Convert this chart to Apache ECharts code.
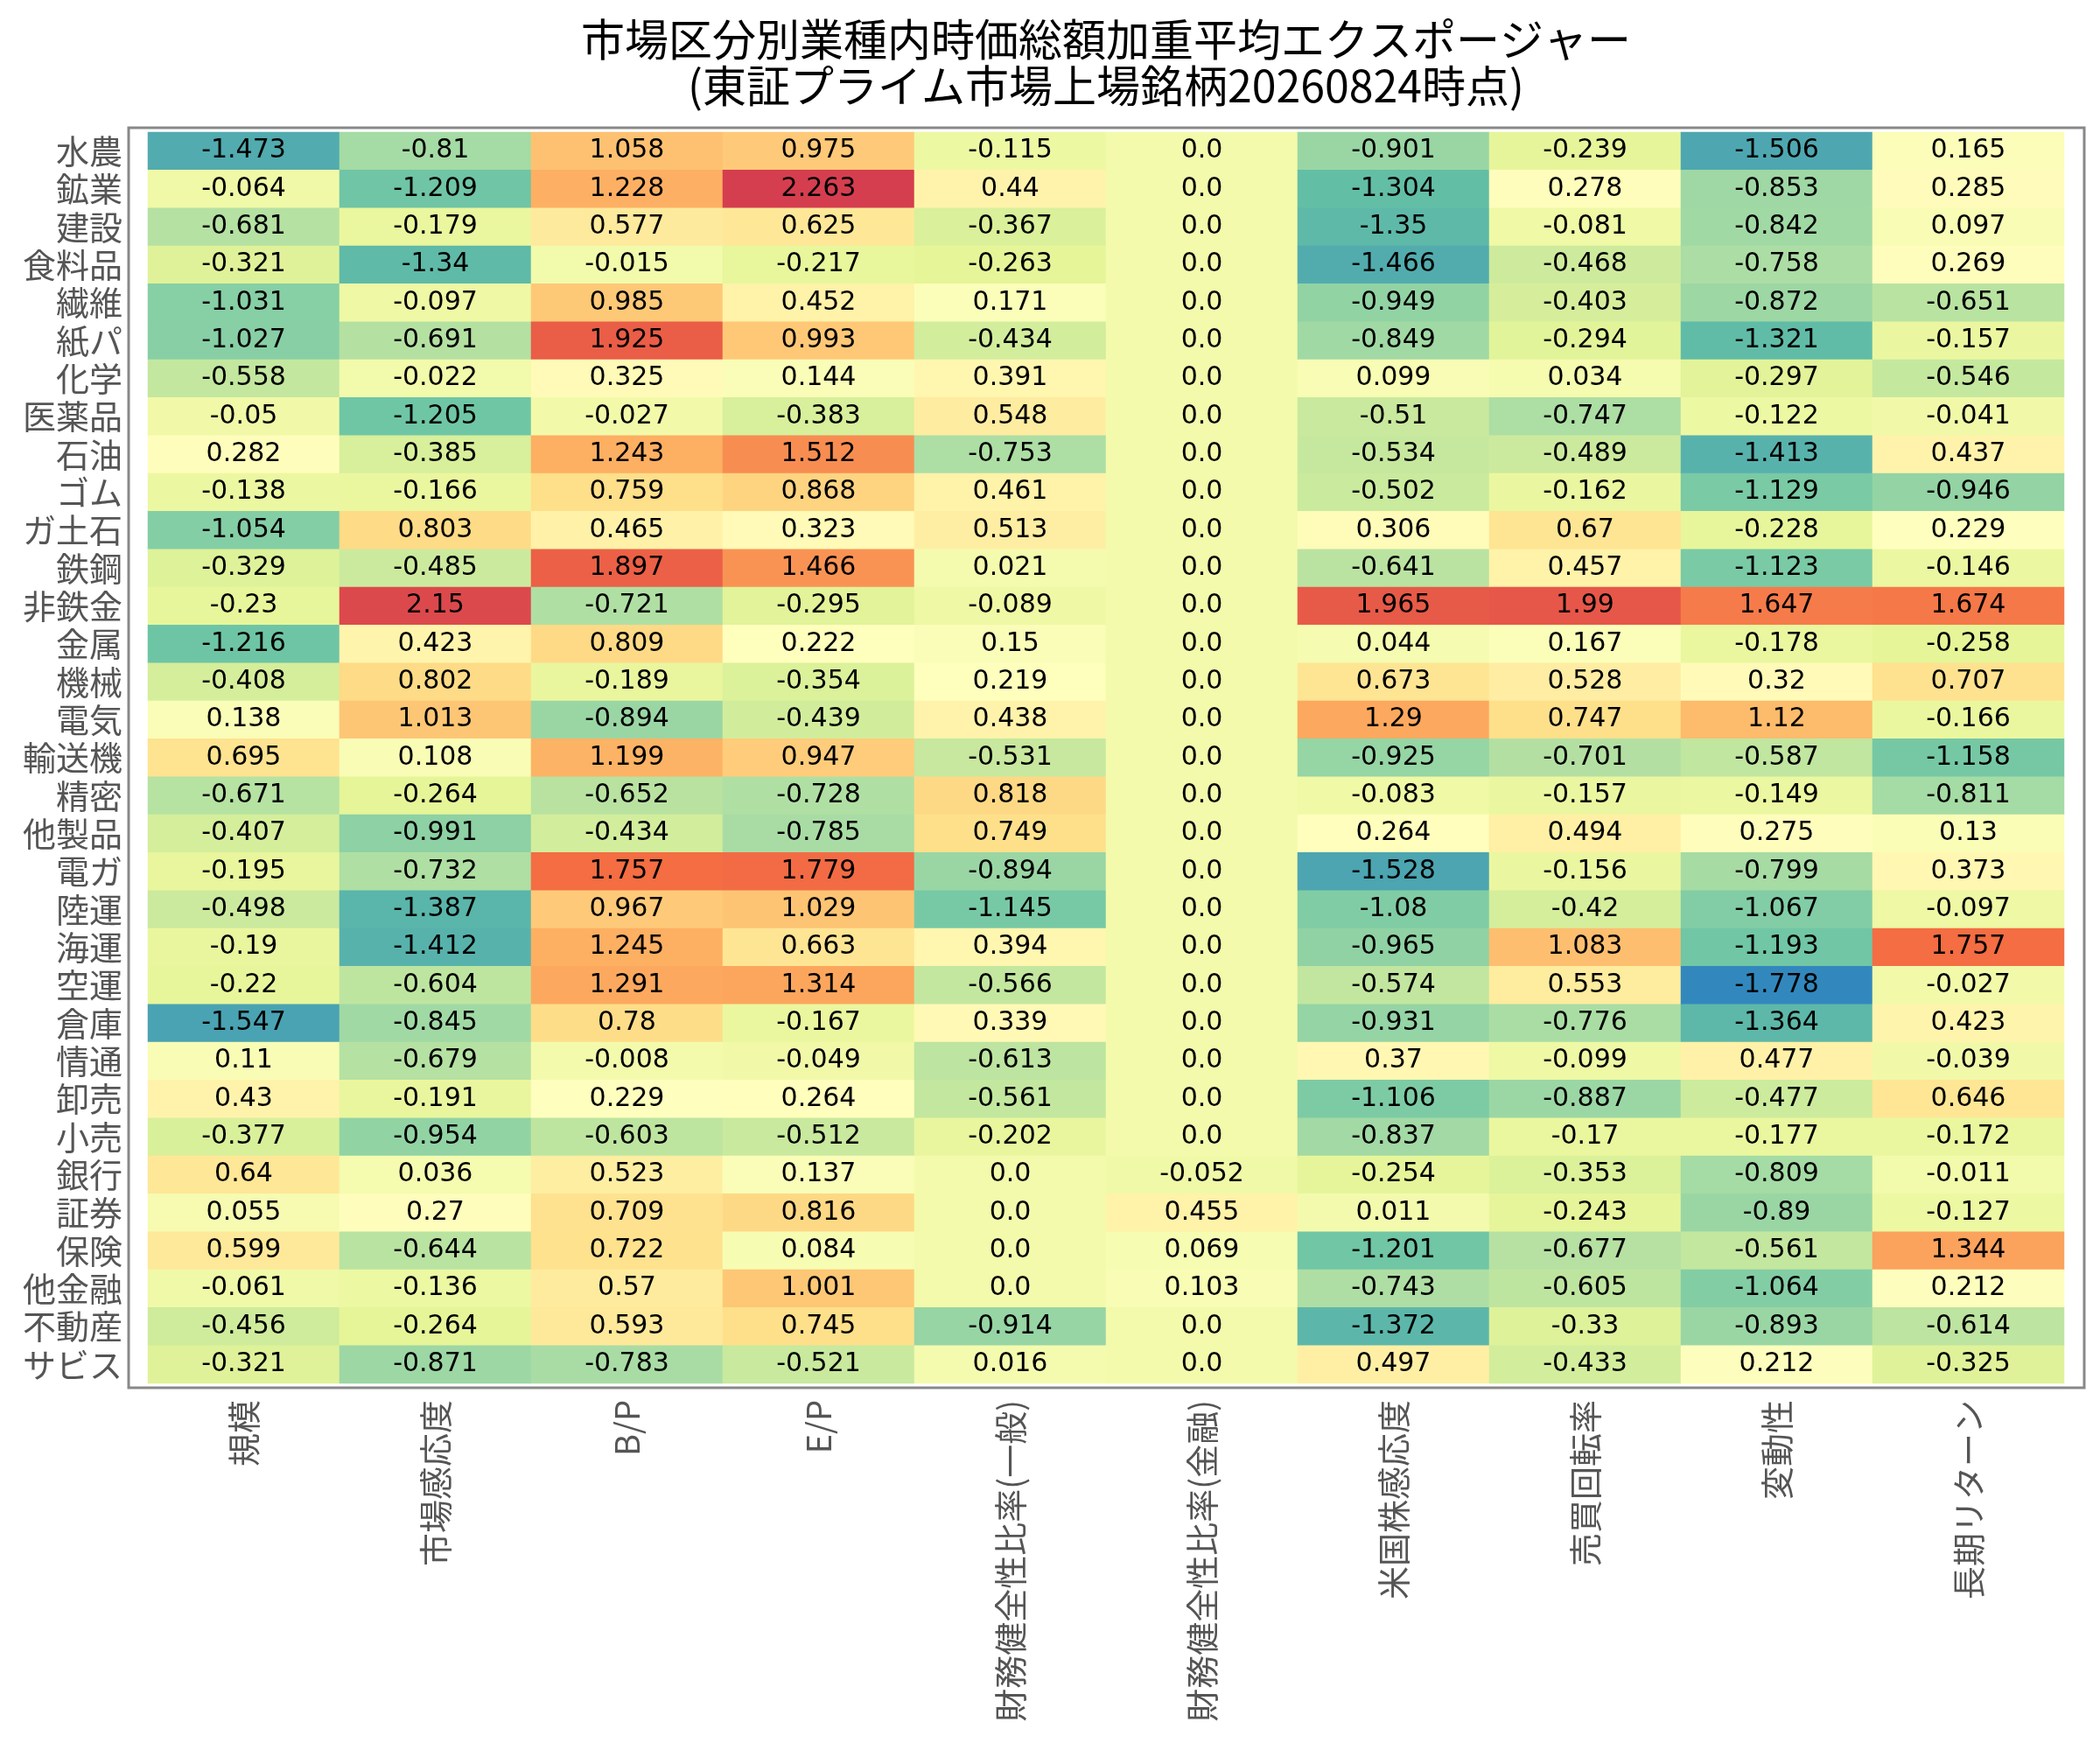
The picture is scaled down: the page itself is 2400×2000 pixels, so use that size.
<html>
  <head>
    <meta charset="utf-8">
    <script src="https://cdn.jsdelivr.net/npm/echarts@6/dist/echarts.min.js"></script>
  </head>
  <body style="margin:0;background:#fff;">
    <div id="main" style="width:2400px;height:2000px;"></div>
    <script>
      // 業種 (rows, top to bottom)
      var sectors = ['水農', '鉱業', '建設', '食料品', '繊維', '紙パ', '化学', '医薬品', '石油', 'ゴム',
        'ガ土石', '鉄鋼', '非鉄金', '金属', '機械', '電気', '輸送機', '精密', '他製品', '電ガ',
        '陸運', '海運', '空運', '倉庫', '情通', '卸売', '小売', '銀行', '証券', '保険',
        '他金融', '不動産', 'サビス'];

      // ファクター (columns)
      var factors = ['規模', '市場感応度', 'B/P', 'E/P', '財務健全性比率(一般)', '財務健全性比率(金融)',
        '米国株感応度', '売買回転率', '変動性', '長期リターン'];

      // one array per factor, in sector order
      var size = [-1.473, -0.064, -0.681, -0.321, -1.031, -1.027, -0.558, -0.05, 0.282, -0.138,
        -1.054, -0.329, -0.23, -1.216, -0.408, 0.138, 0.695, -0.671, -0.407, -0.195,
        -0.498, -0.19, -0.22, -1.547, 0.11, 0.43, -0.377, 0.64, 0.055, 0.599,
        -0.061, -0.456, -0.321];
      var marketBeta = [-0.81, -1.209, -0.179, -1.34, -0.097, -0.691, -0.022, -1.205, -0.385, -0.166,
        0.803, -0.485, 2.15, 0.423, 0.802, 1.013, 0.108, -0.264, -0.991, -0.732,
        -1.387, -1.412, -0.604, -0.845, -0.679, -0.191, -0.954, 0.036, 0.27, -0.644,
        -0.136, -0.264, -0.871];
      var bp = [1.058, 1.228, 0.577, -0.015, 0.985, 1.925, 0.325, -0.027, 1.243, 0.759,
        0.465, 1.897, -0.721, 0.809, -0.189, -0.894, 1.199, -0.652, -0.434, 1.757,
        0.967, 1.245, 1.291, 0.78, -0.008, 0.229, -0.603, 0.523, 0.709, 0.722,
        0.57, 0.593, -0.783];
      var ep = [0.975, 2.263, 0.625, -0.217, 0.452, 0.993, 0.144, -0.383, 1.512, 0.868,
        0.323, 1.466, -0.295, 0.222, -0.354, -0.439, 0.947, -0.728, -0.785, 1.779,
        1.029, 0.663, 1.314, -0.167, -0.049, 0.264, -0.512, 0.137, 0.816, 0.084,
        1.001, 0.745, -0.521];
      var finHealthGen = [-0.115, 0.44, -0.367, -0.263, 0.171, -0.434, 0.391, 0.548, -0.753, 0.461,
        0.513, 0.021, -0.089, 0.15, 0.219, 0.438, -0.531, 0.818, 0.749, -0.894,
        -1.145, 0.394, -0.566, 0.339, -0.613, -0.561, -0.202, 0.0, 0.0, 0.0,
        0.0, -0.914, 0.016];
      var finHealthFin = [0.0, 0.0, 0.0, 0.0, 0.0, 0.0, 0.0, 0.0, 0.0, 0.0,
        0.0, 0.0, 0.0, 0.0, 0.0, 0.0, 0.0, 0.0, 0.0, 0.0,
        0.0, 0.0, 0.0, 0.0, 0.0, 0.0, 0.0, -0.052, 0.455, 0.069,
        0.103, 0.0, 0.0];
      var usBeta = [-0.901, -1.304, -1.35, -1.466, -0.949, -0.849, 0.099, -0.51, -0.534, -0.502,
        0.306, -0.641, 1.965, 0.044, 0.673, 1.29, -0.925, -0.083, 0.264, -1.528,
        -1.08, -0.965, -0.574, -0.931, 0.37, -1.106, -0.837, -0.254, 0.011, -1.201,
        -0.743, -1.372, 0.497];
      var turnover = [-0.239, 0.278, -0.081, -0.468, -0.403, -0.294, 0.034, -0.747, -0.489, -0.162,
        0.67, 0.457, 1.99, 0.167, 0.528, 0.747, -0.701, -0.157, 0.494, -0.156,
        -0.42, 1.083, 0.553, -0.776, -0.099, -0.887, -0.17, -0.353, -0.243, -0.677,
        -0.605, -0.33, -0.433];
      var volatility = [-1.506, -0.853, -0.842, -0.758, -0.872, -1.321, -0.297, -0.122, -1.413, -1.129,
        -0.228, -1.123, 1.647, -0.178, 0.32, 1.12, -0.587, -0.149, 0.275, -0.799,
        -1.067, -1.193, -1.778, -1.364, 0.477, -0.477, -0.177, -0.809, -0.89, -0.561,
        -1.064, -0.893, 0.212];
      var longReturn = [0.165, 0.285, 0.097, 0.269, -0.651, -0.157, -0.546, -0.041, 0.437, -0.946,
        0.229, -0.146, 1.674, -0.258, 0.707, -0.166, -1.158, -0.811, 0.13, 0.373,
        -0.097, 1.757, -0.027, 0.423, -0.039, 0.646, -0.172, -0.011, -0.127, 1.344,
        0.212, -0.614, -0.325];

      var columns = [size, marketBeta, bp, ep, finHealthGen, finHealthFin, usBeta, turnover, volatility, longReturn];

      var cells = [];
      var lo = Infinity, hi = -Infinity;
      columns.forEach(function (col, x) {
        col.forEach(function (v, y) {
          cells.push([x, y, v]);
          if (v < lo) lo = v;
          if (v > hi) hi = v;
        });
      });

      // python-ish number text: 0.0 stays 0.0
      function fmt(v) {
        return Number.isInteger(v) ? v.toFixed(1) : String(v);
      }

      var cjk = '"Noto Sans CJK JP", "Noto Sans", sans-serif';

      var myChart = echarts.init(document.getElementById('main'));
      var option = {
        backgroundColor: '#ffffff',
        animation: false,
        title: {
          text: '市場区分別業種内時価総額加重平均エクスポージャー\n(東証プライム市場上場銘柄20260824時点)',
          left: 1264,
          top: 18,
          padding: 0,
          textAlign: 'center',
          textStyle: {
            fontFamily: cjk,
            fontSize: 50,
            fontWeight: 'normal',
            color: '#000',
            lineHeight: 53
          }
        },
        grid: {
          left: 169,
          top: 151,
          width: 2190,
          height: 1430
        },
        xAxis: {
          type: 'category',
          data: factors,
          axisLine: { show: false },
          axisTick: { show: false },
          splitLine: { show: false },
          axisLabel: {
            rotate: 90,
            margin: 19,
            interval: 0,
            fontFamily: cjk,
            fontSize: 38,
            color: '#555'
          }
        },
        yAxis: {
          type: 'category',
          data: sectors,
          inverse: true,
          axisLine: { show: false },
          axisTick: { show: false },
          splitLine: { show: false },
          axisLabel: {
            margin: 29,
            interval: 0,
            fontFamily: cjk,
            fontSize: 38,
            color: '#555'
          }
        },
        visualMap: {
          show: false,
          type: 'continuous',
          dimension: 2,
          min: lo,
          max: hi,
          inRange: {
            color: ['#3288bd', '#66c2a5', '#abdda4', '#e6f598', '#ffffbf',
              '#fee08b', '#fdae61', '#f46d43', '#d53e4f']
          }
        },
        graphic: [{
          type: 'rect',
          silent: true,
          z: 10,
          shape: { x: 147, y: 146, width: 2235, height: 1440 },
          style: { fill: 'none', stroke: '#888', lineWidth: 3 }
        }],
        series: [{
          type: 'heatmap',
          data: cells,
          label: {
            show: true,
            color: '#000',
            fontFamily: '"DejaVu Sans", sans-serif',
            fontSize: 30,
            formatter: function (p) { return fmt(p.value[2]); }
          },
          itemStyle: { borderWidth: 0 },
          emphasis: { disabled: true }
        }]
      };

      myChart.setOption(option);
    </script>
  </body>
</html>
